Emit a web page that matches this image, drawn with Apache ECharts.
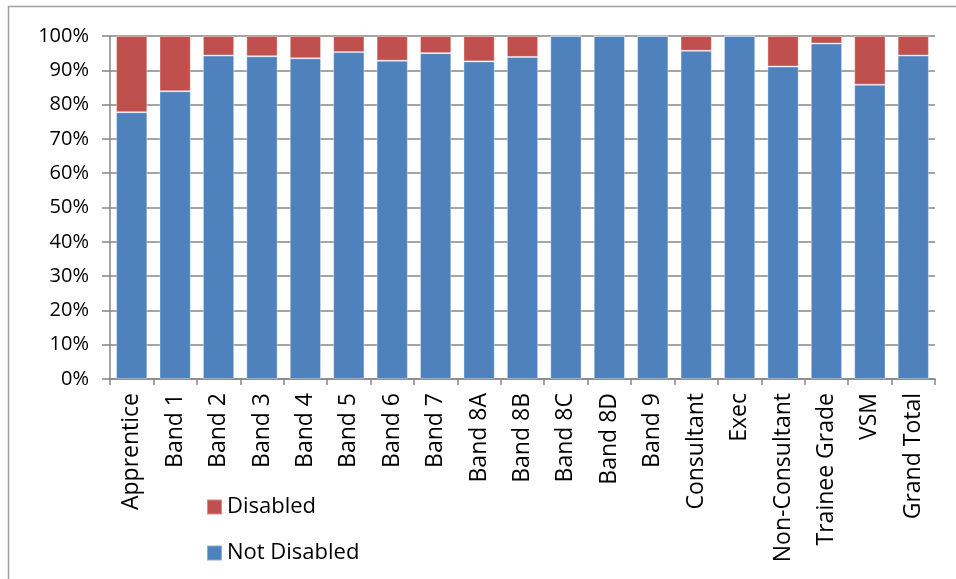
<!DOCTYPE html>
<html>
<head>
<meta charset="utf-8">
<style>
  html, body { margin: 0; padding: 0; background: #ffffff; }
  #chart { width: 956px; height: 579px; }
</style>
<script src="https://cdn.jsdelivr.net/npm/echarts@6/dist/echarts.min.js"></script>
</head>
<body>
<div id="chart"></div>
<script>
// Staff groups on the category axis
const categories = ['Apprentice', 'Band 1', 'Band 2', 'Band 3', 'Band 4', 'Band 5', 'Band 6',
  'Band 7', 'Band 8A', 'Band 8B', 'Band 8C', 'Band 8D', 'Band 9', 'Consultant', 'Exec',
  'Non-Consultant', 'Trainee Grade', 'VSM', 'Grand Total'];

// Share of staff (%) in each group
const notDisabled = [77.8, 83.9, 94.3, 94.1, 93.5, 95.3, 92.8, 95.0, 92.6, 93.9, 100, 100, 100, 95.7, 100, 91.1, 97.8, 85.8, 94.3];
const disabled    = [22.2, 16.1,  5.7,  5.9,  6.5,  4.7,  7.2,  5.0,  7.4,  6.1,   0,   0,   0,  4.3,   0,  8.9,  2.2, 14.2,  5.7];

// Y axis ticks
const yTicks = [0, 10, 20, 30, 40, 50, 60, 70, 80, 90, 100];

const FONT = '"Open Sans", "Liberation Sans", sans-serif';
const GRID_GRAY = '#868686';

const chart = echarts.init(document.getElementById('chart'), null, { renderer: 'canvas' });

chart.setOption({
  animation: false,
  backgroundColor: '#ffffff',
  graphic: [{
    type: 'rect',
    shape: { x: 8.5, y: 6.5, width: 1000, height: 1000 },
    style: { fill: 'none', stroke: '#a0a0a0', lineWidth: 1.5 },
    silent: true
  }],
  grid: { left: 110, right: 21, top: 36, bottom: 200, containLabel: false },
  legend: {
    orient: 'vertical',
    left: 201,
    top: 491,
    itemGap: 24,
    itemWidth: 15,
    itemHeight: 15,
    icon: 'rect',
    data: ['Disabled', 'Not Disabled'],
    textStyle: { fontFamily: FONT, fontSize: 22, lineHeight: 22, color: '#000000', padding: [0, 0, 0, 0] }
  },
  xAxis: {
    type: 'category',
    data: categories,
    axisLine: { lineStyle: { color: GRID_GRAY, width: 1.5 } },
    axisTick: { show: true, length: 6, lineStyle: { color: GRID_GRAY, width: 1.5 } },
    axisLabel: {
      rotate: 90,
      interval: 0,
      margin: 14,
      fontFamily: FONT,
      fontSize: 23,
      color: '#000000'
    }
  },
  yAxis: {
    type: 'value',
    min: 0,
    max: 100,
    interval: 10,
    axisLine: { show: true, lineStyle: { color: GRID_GRAY, width: 1.5 } },
    axisTick: { show: true, length: 8, lineStyle: { color: GRID_GRAY, width: 1.5 } },
    splitLine: { show: true, lineStyle: { color: GRID_GRAY, width: 1.5 } },
    axisLabel: {
      margin: 21,
      fontFamily: FONT,
      fontSize: 20,
      color: '#000000',
      formatter: function (v) { return yTicks.indexOf(v) >= 0 ? v + '%' : ''; }
    }
  },
  series: [
    {
      name: 'Not Disabled',
      type: 'bar',
      stack: 'share',
      barWidth: '72%',
      data: notDisabled,
      itemStyle: { color: '#4f81bd', borderColor: 'rgba(255,255,255,0.35)', borderWidth: 1 }
    },
    {
      name: 'Disabled',
      type: 'bar',
      stack: 'share',
      barWidth: '72%',
      data: disabled,
      itemStyle: { color: '#c0504d', borderColor: 'rgba(255,255,255,0.35)', borderWidth: 1 }
    }
  ]
});
</script>
</body>
</html>
